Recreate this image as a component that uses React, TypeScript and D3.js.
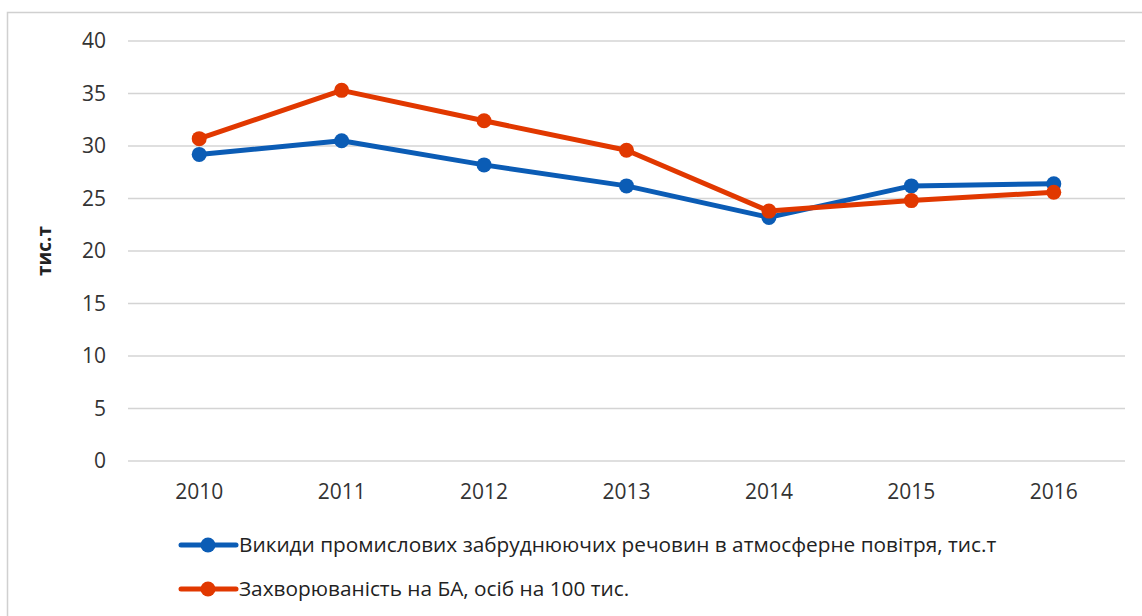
import * as d3 from "d3";
import React from "react";
import { useEffect, useRef } from "react";

const years = ["2010", "2011", "2012", "2013", "2014", "2015", "2016"];
const emissions = [29.2, 30.5, 28.2, 26.2, 23.2, 26.2, 26.4];
const asthma = [30.7, 35.3, 32.4, 29.6, 23.8, 24.8, 25.6];
const yTicks = [0, 5, 10, 15, 20, 25, 30, 35, 40];
const seriesNames = [
    "Викиди промислових забруднюючих речовин в атмосферне повітря, тис.т",
    "Захворюваність на БА, осіб на 100 тис.",
];
const colors = ["#0b5cb5", "#e13800"];

function drawChart(node: SVGSVGElement) {
    const font = "Open Sans, sans-serif";
    const svg = d3.select(node);
    svg.selectAll("*").remove();

    // chart frame (right and bottom edges are cut off in the picture)
    svg.append("rect")
        .attr("x", 7.5).attr("y", 12.5)
        .attr("width", 1160).attr("height", 640)
        .attr("fill", "#fff")
        .attr("stroke", "#d0d0d0")
        .attr("stroke-width", 1.5);

    const x = d3.scaleBand().domain(years).range([128, 1125]);
    const y = d3.scaleLinear().domain([0, 40]).range([461, 41]);

    // grid
    svg.append("g").selectAll("line")
        .data(yTicks).enter().append("line")
        .attr("x1", 128).attr("x2", 1125)
        .attr("y1", d => y(d)).attr("y2", d => y(d))
        .attr("stroke", "#d4d4d4").attr("stroke-width", 1.5);

    svg.append("g").selectAll("text")
        .data(yTicks).enter().append("text")
        .attr("x", 106).attr("y", d => y(d))
        .attr("dy", "0.35em")
        .attr("text-anchor", "end")
        .style("font", `21px ${font}`)
        .attr("fill", "#333")
        .text(d => d);

    svg.append("g").selectAll("text")
        .data(years).enter().append("text")
        .attr("x", d => (x(d) || 0) + x.bandwidth() / 2)
        .attr("y", 492).attr("dy", "0.35em")
        .attr("text-anchor", "middle")
        .style("font", `21px ${font}`)
        .attr("fill", "#333")
        .text(d => d);

    svg.append("text")
        .attr("transform", "translate(44,251) rotate(-90)")
        .attr("text-anchor", "middle")
        .attr("dy", "0.35em")
        .style("font", `bold 19px ${font}`)
        .attr("fill", "#222")
        .text("тис.т");

    const line = d3.line<number>()
        .x((d, i) => (x(years[i]) || 0) + x.bandwidth() / 2)
        .y(d => y(d));

    [emissions, asthma].forEach((vals, k) => {
        svg.append("path")
            .datum(vals)
            .attr("d", line)
            .attr("fill", "none")
            .attr("stroke", colors[k])
            .attr("stroke-width", 5)
            .attr("stroke-linejoin", "round");
        svg.append("g").selectAll("circle")
            .data(vals).enter().append("circle")
            .attr("cx", (d, i) => (x(years[i]) || 0) + x.bandwidth() / 2)
            .attr("cy", d => y(d))
            .attr("r", 7.5)
            .attr("fill", colors[k]);
    });

    // legend
    seriesNames.forEach((name, k) => {
        const ly = 545 + k * 44;
        const g = svg.append("g");
        g.append("line")
            .attr("x1", 181).attr("x2", 236)
            .attr("y1", ly).attr("y2", ly)
            .attr("stroke", colors[k]).attr("stroke-width", 5)
            .attr("stroke-linecap", "round");
        g.append("circle")
            .attr("cx", 208).attr("cy", ly).attr("r", 7.5)
            .attr("fill", colors[k]);
        g.append("text")
            .attr("x", 239).attr("y", ly).attr("dy", "0.35em")
            .style("font", `20.8px ${font}`)
            .attr("fill", "#222")
            .text(name);
    });
}

export default function App() {
    const ref = useRef<SVGSVGElement>(null);
    useEffect(() => {
        if (ref.current) drawChart(ref.current);
    });
    return (
        <svg ref={ref} width={1142} height={616}
            style={{ position: "absolute", left: 0, top: 0, background: "#fff" }}></svg>
    );
}
